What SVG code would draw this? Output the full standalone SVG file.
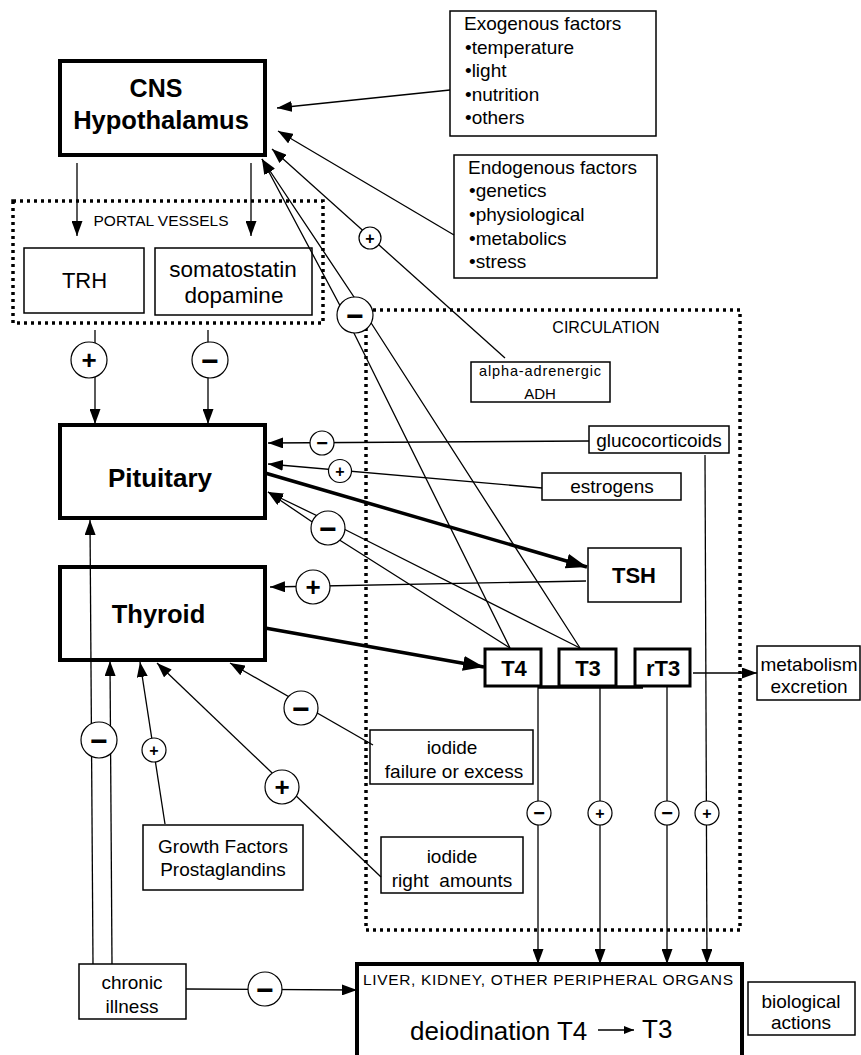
<svg xmlns="http://www.w3.org/2000/svg" width="861" height="1055" viewBox="0 0 861 1055">
<style>
text{font-family:"Liberation Sans",Arial,Helvetica,sans-serif;fill:#000}
.m{text-anchor:middle}
.b{font-weight:bold}
.box{fill:#fff;stroke:#000;stroke-width:1.5}
.big{fill:#fff;stroke:#000;stroke-width:4}
.mid{fill:#fff;stroke:#000;stroke-width:3}
.dot{fill:none;stroke:#000;stroke-width:3.5;stroke-dasharray:3 4}
.ln{fill:none;stroke:#000;stroke-width:1.3}
.thick{fill:none;stroke:#000;stroke-width:3.5}
.sg{fill:#fff;stroke:#000;stroke-width:1.2}
.s{font-weight:bold;text-anchor:middle;dominant-baseline:central}
</style>
<defs>
<marker id="a" markerUnits="userSpaceOnUse" markerWidth="16" markerHeight="11" refX="15" refY="5.5" orient="auto"><path d="M0,0 L15,5.5 L0,11 z" fill="#000"/></marker>
<marker id="A" markerUnits="userSpaceOnUse" markerWidth="22" markerHeight="15" refX="21" refY="7.5" orient="auto"><path d="M0,0 L21,7.5 L0,15 z" fill="#000"/></marker>
<marker id="sm" markerUnits="userSpaceOnUse" markerWidth="11" markerHeight="8" refX="10" refY="4" orient="auto"><path d="M0,0 L10,4 L0,8 z" fill="#000"/></marker>
</defs>
<rect width="861" height="1055" fill="#fff"/>

<g id="portal"><rect class="dot" x="13" y="201" width="310" height="122"/><text class="m" x="161" y="226" font-size="15.5">PORTAL VESSELS</text></g>
<g id="circulation"><rect class="dot" x="366" y="310" width="374" height="620"/><text class="m" x="606" y="333" font-size="16">CIRCULATION</text></g>

<g id="hypothalamus"><rect class="big" x="60" y="61" width="205" height="94"/><text class="m b" x="156" y="97" font-size="25">CNS</text><text class="m b" x="161" y="129" font-size="25.5">Hypothalamus</text></g>
<g id="trh"><rect class="box" x="24" y="248" width="120" height="65"/><text class="m" x="84.5" y="288" font-size="22">TRH</text></g>
<g id="somatostatin"><rect class="box" x="155" y="248" width="157" height="67"/><text class="m" x="233" y="277" font-size="22.5">somatostatin</text><text class="m" x="234" y="303" font-size="22.5">dopamine</text></g>
<g id="pituitary"><rect class="big" x="60" y="425" width="205" height="93"/><text class="m b" x="160" y="487" font-size="26">Pituitary</text></g>
<g id="thyroid"><rect class="big" x="60" y="567" width="205" height="93"/><text class="m b" x="158.5" y="623" font-size="25.5">Thyroid</text></g>
<g id="exogenous"><rect class="box" x="450" y="11" width="206" height="125"/>
<text x="464" y="30" font-size="19">Exogenous factors</text><text x="465" y="54" font-size="19">•temperature</text><text x="465" y="77" font-size="19">•light</text><text x="465" y="101" font-size="19">•nutrition</text><text x="465" y="124" font-size="19">•others</text></g>
<g id="endogenous"><rect class="box" x="454" y="155" width="203" height="123"/>
<text x="468" y="174" font-size="19">Endogenous factors</text><text x="469" y="197" font-size="19">•genetics</text><text x="469" y="221" font-size="19">•physiological</text><text x="469" y="245" font-size="19">•metabolics</text><text x="469" y="268" font-size="19">•stress</text></g>
<g id="alpha"><rect class="box" x="471" y="362" width="139" height="40"/><text class="m" x="540" y="376" font-size="14.5" textLength="122" lengthAdjust="spacing">alpha-adrenergic</text><text class="m" x="540" y="399" font-size="15">ADH</text></g>
<g id="glucocorticoids"><rect class="box" x="589" y="426" width="140" height="27"/><text class="m" x="659" y="447" font-size="19">glucocorticoids</text></g>
<g id="estrogens"><rect class="box" x="542" y="473" width="139" height="27"/><text class="m" x="612" y="493" font-size="19">estrogens</text></g>
<g id="tsh"><rect class="box" x="588" y="548" width="93" height="54"/><text class="m b" x="634" y="583" font-size="22">TSH</text></g>
<g id="t4"><rect class="mid" x="485" y="649" width="56" height="37"/><text class="m b" x="514" y="676" font-size="22">T4</text></g>
<g id="t3"><rect class="mid" x="559" y="649" width="57" height="37"/><text class="m b" x="588" y="676" font-size="22">T3</text></g>
<g id="rt3"><rect class="mid" x="635" y="649" width="55" height="37"/><text class="m b" x="663" y="676" font-size="22">rT3</text></g>
<g id="metabolism"><rect class="box" x="757" y="646" width="103" height="54"/><text class="m" x="809" y="671" font-size="19">metabolism</text><text class="m" x="809" y="693" font-size="19">excretion</text></g>
<g id="iodide-failure"><rect class="box" x="370" y="730" width="163" height="54"/><text class="m" x="452" y="754" font-size="19">iodide</text><text class="m" x="454" y="778" font-size="19">failure or excess</text></g>
<g id="iodide-right"><rect class="box" x="381" y="837" width="142" height="56"/><text class="m" x="452" y="863" font-size="19">iodide</text><text class="m" x="452" y="887" font-size="19" xml:space="preserve">right  amounts</text></g>
<g id="growth"><rect class="box" x="143" y="825" width="160" height="65"/><text class="m" x="223" y="853" font-size="19">Growth Factors</text><text class="m" x="223" y="876" font-size="19">Prostaglandins</text></g>
<g id="chronic"><rect class="box" x="79" y="964" width="107" height="55"/><text class="m" x="132" y="989" font-size="19">chronic</text><text class="m" x="132" y="1013" font-size="19">illness</text></g>
<g id="liver"><rect class="big" x="357" y="964" width="385" height="100"/><text x="363" y="985" font-size="15.5" textLength="370" lengthAdjust="spacing">LIVER, KIDNEY, OTHER PERIPHERAL ORGANS</text><text x="410" y="1040" font-size="26">deiodination T4</text><line x1="598" y1="1030" x2="634" y2="1030" stroke="#000" stroke-width="1.5" marker-end="url(#sm)"/><text x="642" y="1038" font-size="26">T3</text></g>
<g id="biological"><rect class="box" x="748" y="982" width="107" height="53"/><text class="m" x="801" y="1008" font-size="19">biological</text><text class="m" x="801" y="1029" font-size="19">actions</text></g>

<g id="connectors">
<line class="ln" x1="450" y1="90" x2="277" y2="108" marker-end="url(#a)"/>
<line class="ln" x1="454" y1="235" x2="278" y2="131" marker-end="url(#a)"/>
<line class="ln" x1="505" y1="358" x2="272" y2="149" marker-end="url(#a)"/>
<polyline class="ln" points="510,648 345,315 262,159" marker-end="url(#a)"/>
<polyline class="ln" points="580,648 366,315 262,159" marker-end="url(#a)"/>
<line class="ln" x1="77" y1="163" x2="77" y2="236" marker-end="url(#a)"/>
<line class="ln" x1="251" y1="163" x2="251" y2="236" marker-end="url(#a)"/>
<line class="ln" x1="95" y1="330" x2="95" y2="424" marker-end="url(#a)"/>
<line class="ln" x1="208" y1="330" x2="208" y2="424" marker-end="url(#a)"/>
<line class="ln" x1="589" y1="441" x2="268" y2="443" marker-end="url(#a)"/>
<line class="ln" x1="542" y1="488" x2="268" y2="464" marker-end="url(#a)"/>
<line class="thick" x1="265" y1="473" x2="587" y2="567" marker-end="url(#A)"/>
<polyline class="ln" points="510,648 330,534 268,492" marker-end="url(#a)"/>
<polyline class="ln" points="580,648 330,522 268,492" marker-end="url(#a)"/>
<line class="ln" x1="586" y1="581" x2="270" y2="587" marker-end="url(#a)"/>
<line class="thick" x1="265" y1="628" x2="484" y2="667" marker-end="url(#A)"/>
<line class="ln" x1="693" y1="673" x2="757" y2="673" marker-end="url(#a)"/>
<line class="thick" x1="538" y1="687" x2="643" y2="687" stroke-width="2.5"/>
<line class="ln" x1="538" y1="687" x2="538" y2="964" marker-end="url(#a)"/>
<line class="ln" x1="600" y1="687" x2="600" y2="964" marker-end="url(#a)"/>
<line class="ln" x1="667" y1="687" x2="667" y2="964" marker-end="url(#a)"/>
<line class="ln" x1="705" y1="455" x2="707" y2="964" marker-end="url(#a)"/>
<line class="ln" x1="186" y1="989" x2="357" y2="990" marker-end="url(#a)"/>
<line class="ln" x1="93" y1="964" x2="90" y2="520" marker-end="url(#a)"/>
<line class="ln" x1="112" y1="964" x2="110" y2="661" marker-end="url(#a)"/>
<line class="ln" x1="165" y1="824" x2="140" y2="662" marker-end="url(#a)"/>
<line class="ln" x1="381" y1="877" x2="157" y2="663" marker-end="url(#a)"/>
<line class="ln" x1="373" y1="745" x2="230" y2="663" marker-end="url(#a)"/>
</g>

<g id="signs">
<circle class="sg" cx="370" cy="238" r="11"/><text class="s" x="370" y="238" font-size="16">+</text>
<circle class="sg" cx="355" cy="315" r="18"/><text class="s" x="355" y="315" font-size="30">−</text>
<circle class="sg" cx="89" cy="360" r="18"/><text class="s" x="89" y="360" font-size="26">+</text>
<circle class="sg" cx="210" cy="360" r="18"/><text class="s" x="210" y="360" font-size="30">−</text>
<circle class="sg" cx="322" cy="443" r="12"/><text class="s" x="322" y="443" font-size="20">−</text>
<circle class="sg" cx="340" cy="471" r="11.5"/><text class="s" x="340" y="471" font-size="16">+</text>
<circle class="sg" cx="328" cy="528" r="17"/><text class="s" x="328" y="528" font-size="30">−</text>
<circle class="sg" cx="313" cy="587" r="17"/><text class="s" x="313" y="587" font-size="26">+</text>
<circle class="sg" cx="301" cy="708" r="17"/><text class="s" x="301" y="708" font-size="30">−</text>
<circle class="sg" cx="282" cy="787" r="17"/><text class="s" x="282" y="787" font-size="26">+</text>
<circle class="sg" cx="99" cy="740" r="18"/><text class="s" x="99" y="740" font-size="30">−</text>
<circle class="sg" cx="154" cy="750" r="12"/><text class="s" x="154" y="750" font-size="16">+</text>
<circle class="sg" cx="265" cy="989" r="17"/><text class="s" x="265" y="989" font-size="30">−</text>
<circle class="sg" cx="539" cy="813" r="12"/><text class="s" x="539" y="813" font-size="20">−</text>
<circle class="sg" cx="600" cy="813" r="12"/><text class="s" x="600" y="813" font-size="16">+</text>
<circle class="sg" cx="667" cy="813" r="12"/><text class="s" x="667" y="813" font-size="20">−</text>
<circle class="sg" cx="707" cy="813" r="12"/><text class="s" x="707" y="813" font-size="16">+</text>
</g>
</svg>
